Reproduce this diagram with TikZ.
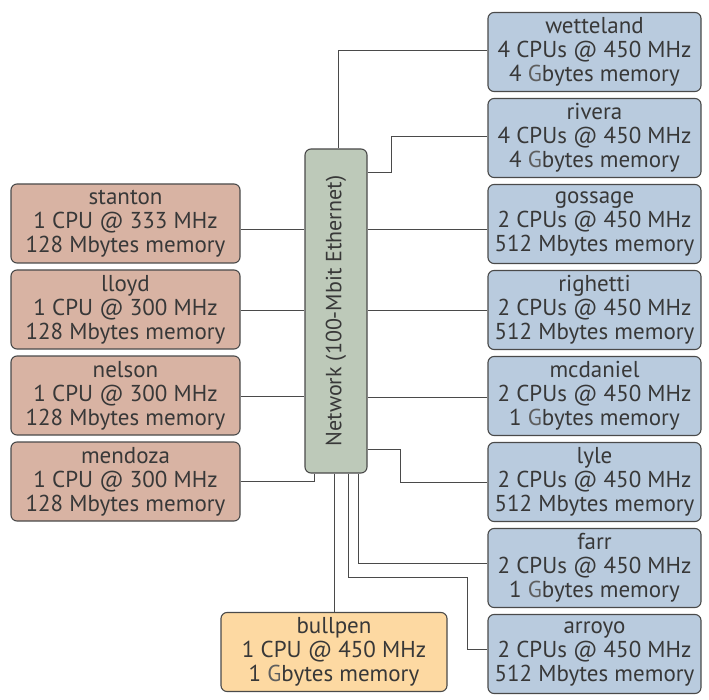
\documentclass[tikz,border=0pt]{standalone}
\usepackage{fontspec}
\setmainfont{PT Sans}
\usetikzlibrary{positioning}
\definecolor{hostred}{HTML}{D8B3A3}
\definecolor{hostblue}{HTML}{B9CBDE}
\definecolor{netgreen}{HTML}{BDC9B9}
\definecolor{hostgold}{HTML}{FDD9A2}
\definecolor{boxline}{HTML}{4A4A4A}
\definecolor{hosttext}{HTML}{383838}
\definecolor{gtext}{HTML}{5E5E5E}
\newcommand{\Gb}{\textcolor{gtext}{G}bytes}

\begin{document}
\begin{tikzpicture}[x=1pt, y=-1pt,
    hostbox/.style={draw=boxline, line width=1.1pt, rounded corners=6pt, minimum height=79pt,
      inner sep=0pt, align=center, text=hosttext, font=\fontsize{23}{24}\selectfont},
    wire/.style={draw=boxline, line width=1pt}]
    \useasboundingbox (0,0) rectangle (709,700);
    % network in the middle
    \node[hostbox, fill=netgreen, minimum width=62pt, minimum height=324pt, font=\fontsize{22}{24}\selectfont] (net) at (336,311)
      {\rotatebox{90}{Network (100-Mbit Ethernet)}};
    % clients on the left
    \node[hostbox, fill=hostred, minimum width=229pt] (stanton) at (125.5,223.5) {stanton\\1 CPU @ 333 MHz\\128 Mbytes memory};
    \node[hostbox, fill=hostred, minimum width=229pt] (lloyd) at (125.5,309.5) {lloyd\\1 CPU @ 300 MHz\\128 Mbytes memory};
    \node[hostbox, fill=hostred, minimum width=229pt] (nelson) at (125.5,395.5) {nelson\\1 CPU @ 300 MHz\\128 Mbytes memory};
    \node[hostbox, fill=hostred, minimum width=229pt] (mendoza) at (125.5,481.5) {mendoza\\1 CPU @ 300 MHz\\128 Mbytes memory};
    % servers on the right
    \foreach \name/\cpus/\mem [count=\k] in {wetteland/4 CPUs/4 \Gb{} memory, rivera/4 CPUs/4 \Gb{} memory,
        gossage/2 CPUs/512 Mbytes memory, righetti/2 CPUs/512 Mbytes memory, mcdaniel/2 CPUs/1 \Gb{} memory,
        lyle/2 CPUs/512 Mbytes memory, farr/2 CPUs/1 \Gb{} memory, arroyo/2 CPUs/512 Mbytes memory}
      \node[hostbox, fill=hostblue, minimum width=213pt] (\name) at (594.5,{52+86*(\k-1)}) {\name\\\cpus{} @ 450 MHz\\\mem};
    \node[hostbox, fill=hostgold, minimum width=226pt] (bullpen) at (334,652) {bullpen\\1 CPU @ 450 MHz\\1 \Gb{} memory};
    % wiring
    \draw[wire] ([xshift=2pt]net.north) |- ([yshift=1pt]wetteland.west);
    \draw[wire] ([yshift=138pt]net.east) -- ++(24,0) |- ([yshift=1pt]rivera.west);
    \draw[wire] ([yshift=-6pt]gossage.west) -- ([yshift=-6pt]gossage.west -| net.east);
    \draw[wire] ([yshift=-1pt]righetti.west) -- ([yshift=-1pt]righetti.west -| net.east);
    \draw[wire] ([yshift=-1pt]mcdaniel.west) -- ([yshift=-1pt]mcdaniel.west -| net.east);
    \draw[wire] ([yshift=-138pt]net.east) -- ++(33,0) |- (lyle.west);
    \draw[wire] ([xshift=22pt]net.south) |- ([yshift=5pt]farr.west);
    \draw[wire] ([xshift=12pt]net.south) -- ++(0,104) -- ++(119,0) |- ([yshift=5pt]arroyo.west);
    \draw[wire] (bullpen.north |- net.south) -- (bullpen.north);
    \draw[wire] ([yshift=-6pt]stanton.east) -- ([yshift=-6pt]stanton.east -| net.west);
    \draw[wire] ([yshift=-1pt]lloyd.east) -- ([yshift=-1pt]lloyd.east -| net.west);
    \draw[wire] ([yshift=-1pt]nelson.east) -- ([yshift=-1pt]nelson.east -| net.west);
    \draw[wire] (mendoza.east) -| ([xshift=-22pt]net.south);
\end{tikzpicture}
\end{document}
